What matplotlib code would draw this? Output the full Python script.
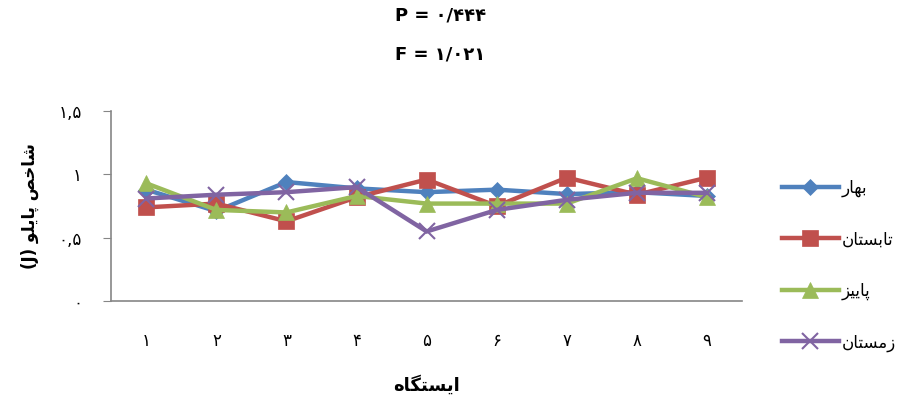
import matplotlib

matplotlib.use("Agg")
import matplotlib.pyplot as plt

plt.rcParams["font.family"] = ["DejaVu Sans"]

# Persian labels are written in visual order with presentation forms,
# since matplotlib does no Arabic shaping or bidi reordering.
stations = ["\u06f1", "\u06f2", "\u06f3", "\u06f4", "\u06f5", "\u06f6", "\u06f7", "\u06f8", "\u06f9"]
series_names = [
    "\ufead\ufe8e\ufeec\ufe91",                          # بهار
    "\ufee5\ufe8e\ufe98\ufeb4\ufe91\ufe8e\ufe97",        # تابستان
    "\ufeb0\ufbff\ufbfe\ufe8e\ufb58",                    # پاییز
    "\ufee5\ufe8e\ufe98\ufeb4\ufee3\ufeaf",              # زمستان
]
spring = [0.88, 0.71, 0.94, 0.89, 0.86, 0.88, 0.845, 0.86, 0.83]
summer = [0.74, 0.77, 0.63, 0.82, 0.96, 0.75, 0.975, 0.84, 0.975]
autumn = [0.93, 0.72, 0.70, 0.83, 0.77, 0.77, 0.77, 0.97, 0.82]
winter = [0.81, 0.84, 0.86, 0.90, 0.55, 0.72, 0.80, 0.855, 0.855]
ytick_vals = [0, 0.5, 1, 1.5]
ytick_labels = ["\u06f0", "\u06f0,\u06f5", "\u06f1", "\u06f1,\u06f5"]

title = "P = \u06f0/\u06f4\u06f4\u06f4\nF = \u06f1/\u06f0\u06f2\u06f1"
xlabel = "\ufee9\ufe8e\ufb95\ufe98\ufeb4\ufbfe\ufe8d"           # ایستگاه
ylabel = "(J) \ufeee\ufee0\ufbfe\ufe8e\ufb58 \ufeba\ufea7\ufe8e\ufeb7"  # شاخص پایلو (J)

colors = ["#4F81BD", "#C0504D", "#9BBB59", "#8064A2"]
markers = ["D", "s", "^", "x"]
msizes = [8, 11, 11, 11]

fig = plt.figure(figsize=(9.04, 4.01), dpi=100)
ax = fig.add_axes([0.123, 0.249, 0.698, 0.474])

x = list(range(1, len(stations) + 1))
for vals, name, c, m, ms in zip([spring, summer, autumn, winter], series_names, colors, markers, msizes):
    ax.plot(x, vals, color=c, lw=3.2, marker=m, markersize=ms, markeredgewidth=1.5 if m == "x" else 0.5,
            markeredgecolor=c, label=name, solid_joinstyle="miter")

ax.set_xlim(0.5, 9.5)
ax.set_ylim(0, 1.5)
ax.set_xticks(x, stations, fontsize=12)
ax.set_yticks(ytick_vals, ytick_labels, fontsize=12)
ax.tick_params(axis="x", length=0, pad=22)
ax.tick_params(axis="y", length=6, color="#868686", pad=15)
for s in ("top", "right"):
    ax.spines[s].set_visible(False)
for s in ("left", "bottom"):
    ax.spines[s].set_color("#868686")
    ax.spines[s].set_linewidth(1.2)

ax.set_xlabel(xlabel, fontsize=13, fontweight="bold", labelpad=18)
ax.set_ylabel(ylabel, fontsize=12, fontweight="bold", labelpad=14)
fig.text(0.487, 0.985, title, ha="center", va="top", fontsize=13, fontweight="bold", linespacing=2.5)

leg = ax.legend(loc="center left", bbox_to_anchor=(1.063, 0.19), frameon=False, fontsize=12,
                handlelength=3.4, labelspacing=2.0, handletextpad=0.2, borderaxespad=0, borderpad=0)

fig.savefig("out.png", dpi=100)
